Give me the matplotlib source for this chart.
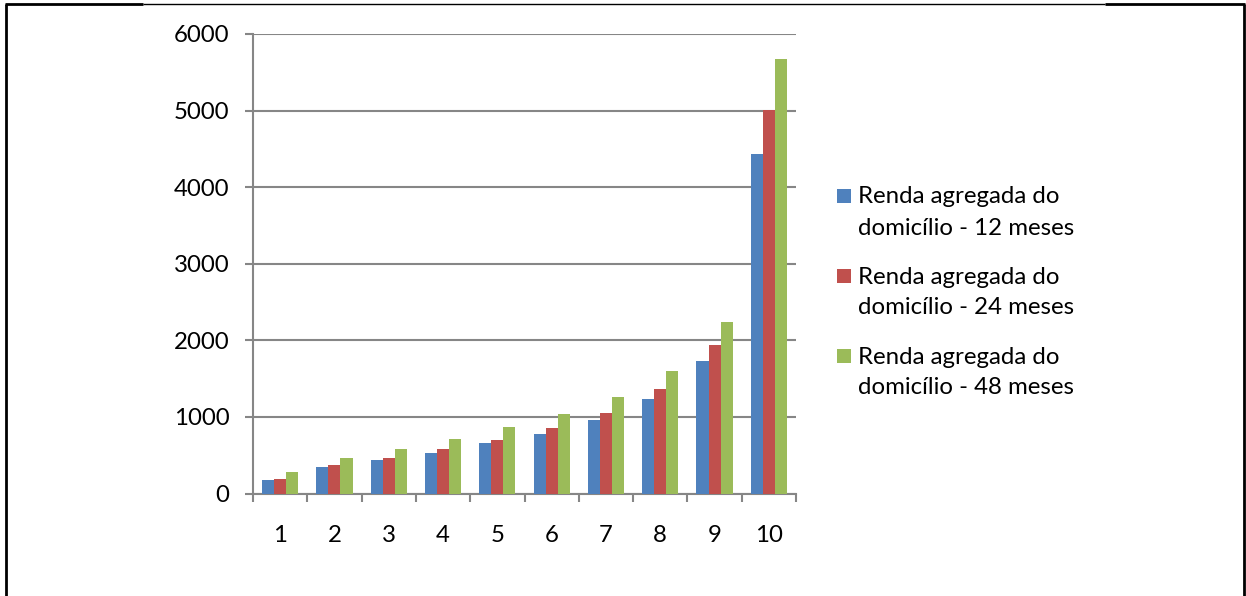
import matplotlib
matplotlib.use("Agg")
import matplotlib.pyplot as plt
from matplotlib.patches import Rectangle
from matplotlib.lines import Line2D
import numpy as np

# Household aggregate income by decile
categories = ["1", "2", "3", "4", "5", "6", "7", "8", "9", "10"]
renda_12 = [176, 342, 437, 529, 655, 772, 958, 1232, 1728, 4430]
renda_24 = [190, 376, 467, 577, 698, 854, 1054, 1359, 1936, 5010]
renda_48 = [277, 463, 577, 715, 872, 1033, 1254, 1597, 2245, 5680]
series_labels = [
    "Renda agregada do\ndomicílio - 12 meses",
    "Renda agregada do\ndomicílio - 24 meses",
    "Renda agregada do\ndomicílio - 48 meses",
]
colors = ["#4F81BD", "#C0504D", "#9BBB59"]
y_ticks = [0, 1000, 2000, 3000, 4000, 5000, 6000]

W, H = 1246, 596
FS = 17.3
plt.rcParams["font.family"] = ["Lato", "DejaVu Sans"]
fig = plt.figure(figsize=(W / 100, H / 100), dpi=100)
fig.patch.set_facecolor("white")

def fx(px):
    return px / W

def fy(py):
    return 1 - py / H

ax = fig.add_axes([fx(253), fy(493.5), fx(796) - fx(253), fy(34) - fy(493.5)])

x = np.arange(1, len(categories) + 1)
bw = 0.222
for k, (vals, col) in enumerate(zip([renda_12, renda_24, renda_48], colors)):
    ax.bar(x + (k - 1) * bw, vals, width=bw, color=col, zorder=3, linewidth=0)

grid_col = "#868686"
ax.set_xlim(0.5, len(categories) + 0.5)
ax.set_ylim(0, 6000)
ax.set_yticks(y_ticks)
ax.set_yticklabels([str(v) for v in y_ticks])
ax.yaxis.grid(True, color=grid_col, linewidth=1.5, zorder=0)
ax.set_xticks(x)
ax.set_xticklabels(categories)
ax.set_xticks(np.arange(0.5, len(categories) + 1, 1.0), minor=True)
ax.tick_params(axis="x", which="major", length=0, pad=23, labelsize=FS)
ax.tick_params(axis="x", which="minor", length=6, width=1.5, color=grid_col, direction="out")
ax.tick_params(axis="y", which="major", length=6, width=1.5, color=grid_col,
               direction="out", pad=11, labelsize=FS)
for s in ["top", "right"]:
    ax.spines[s].set_visible(False)
for s in ["left", "bottom"]:
    ax.spines[s].set_color(grid_col)
    ax.spines[s].set_linewidth(1.5)

# Legend, drawn with the first text line beside each swatch
for k, (lab, col) in enumerate(zip(series_labels, colors)):
    top = 189 + 80 * k
    fig.add_artist(Rectangle((fx(837), fy(top + 14)), fx(14), fy(top) - fy(top + 14),
                             transform=fig.transFigure, facecolor=col, edgecolor="none"))
    l1, l2 = lab.split("\n")
    fig.text(fx(858), fy(203.5 + 80 * k), l1, fontsize=FS, va="baseline", ha="left")
    fig.text(fx(858), fy(234.5 + 80 * k), l2, fontsize=FS, va="baseline", ha="left")

# Frame around the chart
def seg(x0, y0, x1, y1, lw):
    fig.add_artist(Line2D([fx(x0), fx(x1)], [fy(y0), fy(y1)], transform=fig.transFigure,
                          color="black", linewidth=lw, solid_capstyle="butt"))

seg(6, 4, 6, H, 2.0)
seg(1244, 4, 1244, H, 2.0)
seg(5, 4.3, 143, 4.3, 2.0)
seg(143, 4.3, 1105, 4.3, 1.0)
seg(1105, 4.3, 1245, 4.3, 2.0)

fig.savefig("out.png", dpi=100, facecolor="white")
